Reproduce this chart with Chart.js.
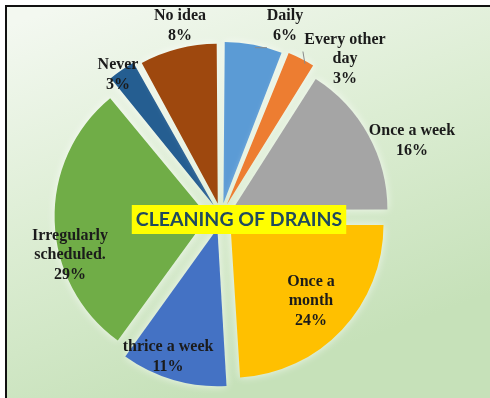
<!DOCTYPE html>
<html>
<head>
<meta charset="utf-8">
<script src="https://cdn.jsdelivr.net/npm/chart.js"></script>
<style>
html,body{margin:0;padding:0;background:#fff;}
#wrap{width:490px;height:398px;position:relative;}
</style>
</head>
<body>
<div id="wrap"><canvas id="c" width="490" height="398"></canvas></div>
<script>
const categories = ["Daily", "Every other day", "Once a week", "Once a month", "thrice a week", "Irregularly scheduled.", "Never", "No idea"];
const values = [6, 3, 16, 24, 11, 29, 3, 8];
const labelLines = [["Daily", "6%"], ["Every other", "day", "3%"], ["Once a week", "16%"], ["Once a", "month", "24%"], ["thrice a week", "11%"], ["Irregularly", "scheduled.", "29%"], ["Never", "3%"], ["No idea", "8%"]];
const colors = ["#5b9bd5", "#ed7d31", "#a5a5a5", "#ffc000", "#4472c4", "#70ad47", "#255e91", "#9e480e"];
const chartTitle = "CLEANING OF DRAINS";
// label anchors relative to pie centre, in units of the radius
const labelPos = [[0.418, -1.242], [0.81, -1.026], [1.248, -0.49], [0.588, 0.556], [-0.346, 0.922], [-0.987, 0.255], [-0.673, -0.922], [-0.268, -1.242]];

const bgPlugin = {
  id: 'bg',
  beforeDraw(chart) {
    const ctx = chart.ctx;
    ctx.save();
    ctx.fillStyle = '#ffffff';
    ctx.fillRect(0, 0, chart.width, chart.height);
    const g = ctx.createLinearGradient(60, 7, 200, 398);
    g.addColorStop(0, '#f3f8f0');
    g.addColorStop(0.5, '#dcedd3');
    g.addColorStop(1, '#c6e1b9');
    ctx.fillStyle = g;
    ctx.fillRect(7, 7, chart.width - 7, chart.height - 7);
    ctx.fillStyle = '#111';
    ctx.fillRect(5, 5, chart.width - 5, 2);
    ctx.fillRect(5, 5, 2, chart.height - 5);
    ctx.restore();
  }
};

const shadowPlugin = {
  id: 'shadow',
  beforeDatasetsDraw(chart) {
    chart.ctx.save();
    chart.ctx.shadowColor = 'rgba(255,255,255,0.7)';
    chart.ctx.shadowBlur = 8;
  },
  afterDatasetsDraw(chart) {
    chart.ctx.restore();
  }
};

const labelPlugin = {
  id: 'labels',
  afterDraw(chart) {
    const ctx = chart.ctx;
    const meta = chart.getDatasetMeta(0);
    const arc0 = meta.data[0];
    const cx = arc0.x, cy = arc0.y, r = arc0.outerRadius;
    ctx.save();
    ctx.font = 'bold 16px "Liberation Serif", "Times New Roman", serif';
    ctx.fillStyle = '#1b1b1b';
    ctx.textAlign = 'center';
    ctx.textBaseline = 'middle';
    const lh = 19.5;
    labelLines.forEach((lines, i) => {
      const x = cx + labelPos[i][0] * r;
      const y = cy + labelPos[i][1] * r;
      const y0 = y - (lines.length - 1) * lh / 2;
      lines.forEach((t, j) => ctx.fillText(t, x, y0 + j * lh));
    });
    // leader lines
    ctx.strokeStyle = '#8a8a8a';
    ctx.lineWidth = 1;
    ctx.beginPath();
    ctx.moveTo(cx + labelPos[0][0] * r - 30, cy - 1.1 * r);
    ctx.lineTo(cx + labelPos[0][0] * r - 18, cy - 1.1 * r);
    ctx.moveTo(cx + labelPos[1][0] * r - 42, cy - 1.075 * r);
    ctx.lineTo(cx + labelPos[1][0] * r - 40, cy - 0.995 * r);
    ctx.stroke();
    // title box
    ctx.font = 'bold 19.5px Lato, "Open Sans", sans-serif';
    const w = ctx.measureText(chartTitle).width;
    const tx = cx + 18, ty = cy + 3;
    ctx.fillStyle = '#ffff00';
    ctx.fillRect(tx - w / 2 - 4, ty - 14, w + 8, 29);
    ctx.fillStyle = '#1f4a5e';
    ctx.fillText(chartTitle, tx, ty + 1);
    ctx.restore();
  }
};

new Chart(document.getElementById('c'), {
  type: 'pie',
  data: {
    labels: categories,
    datasets: [{
      data: values,
      backgroundColor: colors,
      borderWidth: 0,
      offset: 52
    }]
  },
  options: {
    responsive: false,
    animation: false,
    radius: 153,
    layout: { padding: { left: 0, right: 48, top: 34, bottom: 0 } },
    plugins: {
      legend: { display: false },
      tooltip: { enabled: false },
      title: { display: false }
    }
  },
  plugins: [bgPlugin, shadowPlugin, labelPlugin]
});
</script>
</body>
</html>
